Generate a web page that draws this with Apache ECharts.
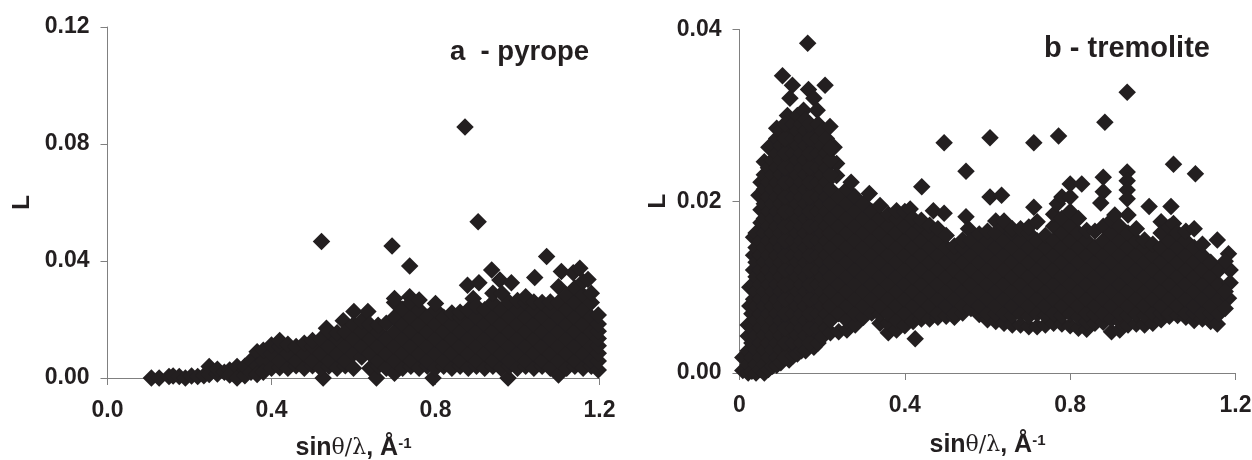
<!DOCTYPE html>
<html><head><meta charset="utf-8">
<script src="https://cdn.jsdelivr.net/npm/echarts@6/dist/echarts.min.js"></script>
<style>html,body{margin:0;padding:0;background:#fff}#c{width:1252px;height:460px}</style>
</head><body><div id="c"></div>
<script>
// Each row: [sinθ/λ, L, L, ...] values
const pyropeRows = [
[.107,0],[.126,0],[.15,.0005],[.16,.0007],[.175,.0005],[.19,0],[.205,.0007],[.22,.0005],[.235,.0008],
[.248,.0039,.0012],[.268,.0014,.003],[.285,.002],[.298,.0027,.001],[.316,.0039,0],[.335,.0027,.0008,.004],
[.35,.006,.002],[.365,.009,.004,.0012],
[.38,.0058,.0095,.002],[.40,.0033,.0083,.0113],[.42,.0035,.0058,.0108,.0128],[.44,.0033,.0083,.0115],
[.46,.0042,.0058,.0108],[.48,.0033,.0083,.0119],[.50,.0042,.0058,.0108,.0128],[.522,.0467],[.526,0],[.52,.0033,.0083,.0133],[.534,.017],
[.54,.004,.0058,.0108,.0158],[.56,.0033,.0083,.0133,.0155],[.575,.0196],[.58,.0042,.0058,.0108,.0158],[.601,.0227],
[.60,.0033,.0083,.0133,.0183],[.62,.0072,.0108,.0158,.0195],[.635,.0227],[.64,.0033,.0083,.0133,.0183],[.656,0],
[.66,.004,.0058,.0108,.0158,.018],[.68,.0033,.0083,.0133,.0187],[.694,.0451],[.70,.0016,.0058,.0108,.0158,.0208,.0258,.0272],
[.72,.0033,.0083,.0133,.0183,.0235],[.737,.0383,.0278],[.74,.004,.0058,.0108,.0158,.0208,.0258],
[.76,.0033,.0083,.0133,.0183,.0233,.0267],[.78,.004,.0058,.0108,.0158,.0208],[.794,0],[.80,.0033,.0083,.0133,.0183,.0233,.0255],
[.82,.004,.0058,.0108,.0158,.0208],[.84,.0033,.0083,.0133,.0183,.0222],[.86,.004,.0058,.0108,.0158,.0208,.0225],
[.872,.0858],[.878,.0317],[.892,.0272],[.88,.0033,.0083,.0133,.0183,.0233],[.904,.0534],[.906,.0326],
[.90,.004,.0058,.0108,.0158,.0208,.0245],[.92,.0033,.0083,.0133,.0183,.0233],[.937,.0369],
[.94,.004,.0058,.0108,.0158,.0208,.0258,.029],[.957,.0335],[.962,.0289],[.96,.0033,.0083,.0133,.0183,.0233],
[.985,.0326],[.977,0],[.98,.004,.0058,.0108,.0158,.0208,.0258],[1.00,.0033,.0083,.0133,.0183,.0233,.0265],
[1.02,.004,.0058,.0108,.0158,.0208,.0258,.0278],[1.042,.0344],[1.04,.0033,.0083,.0133,.0183,.0233,.026],
[1.06,.004,.0058,.0108,.0158,.0208,.0258],[1.071,.0415],[1.08,.0033,.0083,.0133,.0183,.0233,.026],
[1.10,.001,.0058,.0108,.0158,.0208,.0258,.0312],[1.107,.0364],[1.12,.0033,.0083,.0133,.0183,.0233,.0283],
[1.136,.036],[1.14,.004,.0058,.0108,.0158,.0208,.0258,.0308],[1.152,.0375],[1.16,.0033,.0083,.0133,.0183,.0233,.0283,.033],
[1.172,.0337],[1.18,.004,.0058,.0108,.0158,.0208,.0258,.029],[1.197,.0027,.0058,.0085,.011,.0135,.016,.0185,.0215]
];
const tremoliteRows = [
[.008,.0003,.0018],[.021,0,.001,.0026,.0043,.0056],[.025,.0078,.0100],[.03,.0002,.0018,.0035,.0052,.0069],
[.034,.0086,.0103,.012,.0137,.0158],
[.04,0,.001,.0027,.0044,.0061,.0078,.0095,.0112,.0129,.0146,.0163],
[.047,.0207],[.052,.0222,.0190,.0175],
[.05,.0004,.0018,.0035,.0052,.0069,.0086,.0103,.012,.0137,.0154],
[.06,0,.001,.0027,.0044,.0061,.0078,.0095,.0112,.0129,.0146,.0163,.018,.0197,.0214,.0231,.0246],
[.071,.0263],
[.07,.0004,.0018,.0035,.0052,.0069,.0086,.0103,.012,.0137,.0154,.0171,.0188,.0205,.0222,.0239],
[.08,.0008,.0027,.0044,.0061,.0078,.0095,.0112,.0129,.0146,.0163,.018,.0197,.0214,.0231,.0248,.0265],
[.09,.0009,.0018,.0035,.0052,.0069,.0086,.0103,.012,.0137,.0154,.0171,.0188,.0205,.0222,.0239,.0256,.0273,.0285],
[.10,.0012,.0027,.0044,.0061,.0078,.0095,.0112,.0129,.0146,.0163,.018,.0197,.0214,.0231,.0248,.0265,.0282],
[.104,.0346],[.128,.0335],[.122,.032],[.116,.030],
[.12,.0015,.0027,.0044,.0061,.0078,.0095,.0112,.0129,.0146,.0163,.018,.0197,.0214,.0231,.0248,.0265,.0282],
[.11,.0018,.0035,.0052,.0069,.0086,.0103,.012,.0137,.0154,.0171,.0188,.0205,.0222,.0239,.0256,.0273,.029],
[.13,.002,.0035,.0052,.0069,.0086,.0103,.012,.0137,.0154,.0171,.0188,.0205,.0222,.0239,.0256,.0273,.029],
[.14,.0022,.0044,.0061,.0078,.0095,.0112,.0129,.0146,.0163,.018,.0197,.0214,.0231,.0248,.0265,.0282,.030],
[.155,.0306],[.165,.0384],[.167,.033],
[.15,.0026,.0035,.0052,.0069,.0086,.0103,.012,.0137,.0154,.0171,.0188,.0205,.0222,.0239,.0256,.0273,.029],
[.16,.0026,.0044,.0061,.0078,.0095,.0112,.0129,.0146,.0163,.018,.0197,.0214,.0231,.0248,.0265,.0282,.0295],
[.18,.003,.0044,.0061,.0078,.0095,.0112,.0129,.0146,.0163,.018,.0197,.0214,.0231,.0248,.0265,.0282,.032],
[.17,.0035,.0052,.0069,.0086,.0103,.012,.0137,.0154,.0171,.0188,.0205,.0222,.0239,.0256,.0273,.029],
[.188,.0306],[.207,.0335],
[.19,.0035,.0052,.0069,.0086,.0103,.012,.0137,.0154,.0171,.0188,.0205,.0222,.0239,.0256,.0273,.029],
[.20,.0042,.0061,.0078,.0095,.0112,.0129,.0146,.0163,.018,.0197,.0214,.0231,.0248,.0265,.0282],
[.21,.0052,.0069,.0086,.0103,.012,.0137,.0154,.0171,.0188,.0205,.0222,.0239,.0256,.0273],
[.219,.0287],[.229,.0263],[.235,.0244,.023],
[.22,.0047,.0061,.0078,.0095,.0112,.0129,.0146,.0163,.018,.0197,.0214,.0231,.0248,.0262],
[.24,.0048,.0069,.0086,.0103,.012,.0137,.0154,.0171,.0188,.0205],
[.26,.005,.0061,.0078,.0095,.0112,.0129,.0146,.0163,.018,.0197,.0214],
[.27,.0222],
[.28,.0056,.0069,.0086,.0103,.012,.0137,.0154,.0171,.0188,.0205],
[.30,.0065,.0078,.0095,.0112,.0129,.0146,.0163,.018,.0197],
[.314,.0209],[.32,.007,.0086,.0103,.012,.0137,.0154,.0171,.0188],
[.34,.0058,.0068,.0078,.0095,.0112,.0129,.0146,.0163,.018,.0195],
[.36,.0047,.0058,.0069,.0086,.0103,.012,.0137,.0154,.0171,.0185],
[.38,.005,.0061,.0078,.0095,.0112,.0129,.0146,.0163,.018,.0189],
[.40,.0055,.0069,.0086,.0103,.012,.0137,.0154,.0171,.0188],
[.413,.0191],[.425,.004],
[.42,.006,.0078,.0095,.0112,.0129,.0146,.0163,.018],
[.441,.0217],[.44,.0063,.0069,.0086,.0103,.012,.0137,.0154,.0171,.0178],
[.46,.0063,.0078,.0095,.0112,.0129,.0146,.0163,.0172],[.469,.0189],
[.48,.0065,.0069,.0086,.0103,.012,.0137,.0154,.0168],[.495,.0268,.0186],
[.50,.0066,.0078,.0095,.0112,.0129,.0146,.016],
[.52,.0065,.0069,.0086,.0103,.012,.0137,.0148],
[.548,.0235,.0182],[.554,.0168],
[.54,.007,.0078,.0095,.0112,.0129,.0146,.0155],
[.56,.0075,.0086,.0103,.012,.0137,.0154],
[.58,.0068,.0078,.0095,.0112,.0129,.0146,.0162],
[.60,.0062,.0069,.0086,.0103,.012,.0137,.0154,.0165],[.606,.0274,.0205],
[.62,.006,.0069,.0078,.0095,.0112,.0129,.0146,.0163,.0177],[.634,.0207],
[.64,.0058,.0069,.0086,.0103,.012,.0137,.0154,.0171,.0177],
[.66,.0056,.0067,.0078,.0095,.0112,.0129,.0146,.0163,.0168],
[.68,.0056,.0069,.0086,.0103,.012,.0137,.0154,.0168],
[.70,.0054,.0066,.0078,.0095,.0112,.0129,.0146,.0163,.017],[.712,.0268,.0193],
[.72,.0054,.0069,.0086,.0103,.012,.0137,.0154,.0176],
[.74,.0056,.0067,.0078,.0095,.0112,.0129,.0146,.016],
[.76,.0058,.0069,.0086,.0103,.012,.0137,.0154,.0171,.0185],
[.772,.0276],[.769,.0197],
[.78,.0057,.0067,.0078,.0095,.0112,.0129,.0146,.0163,.018,.0205],
[.80,.0055,.0069,.0086,.0103,.012,.0137,.0154,.0171,.0188,.0205,.022],
[.82,.0052,.0065,.0078,.0095,.0112,.0129,.0146,.0163,.018],[.828,.022],
[.84,.0051,.006,.0069,.0086,.0103,.012,.0137,.0154,.0166],
[.86,.0058,.0068,.0078,.0095,.0112,.0129,.0146,.0165],
[.884,.0292],[.88,.0059,.0069,.0086,.0103,.012,.0137,.0154,.0171,.0228,.0211],[.874,.0198],
[.90,.0048,.0063,.0078,.0095,.0112,.0129,.0146,.0163,.0178],[.908,.0184],
[.92,.005,.006,.0069,.0086,.0103,.012,.0137,.0154,.0171],
[.938,.0327,.0234,.0224,.0213,.0203],
[.94,.0056,.0067,.0078,.0095,.0112,.0129,.0146,.0163,.0184],
[.96,.0057,.0069,.0086,.0103,.012,.0137,.0154,.0168],
[.98,.0056,.0067,.0078,.0095,.0112,.0129,.0146,.0155],[.991,.0194],
[1.00,.0058,.0069,.0086,.0103,.012,.0137,.015],
[1.02,.0062,.007,.0078,.0095,.0112,.0129,.0146,.0176,.0163],
[1.04,.0066,.0069,.0086,.0103,.012,.0137,.0154,.017],[1.044,.0194],[1.05,.0243,.0174],
[1.06,.0067,.0078,.0095,.0112,.0129,.0146,.0163],
[1.08,.0065,.0069,.0086,.0103,.012,.0137,.0154,.0165],
[1.103,.0232],[1.10,.0061,.007,.0078,.0095,.0112,.0129,.0146,.0168],
[1.12,.0063,.0069,.0086,.0103,.012,.0137,.015],
[1.14,.006,.007,.0078,.0095,.0112,.0129],
[1.156,.0155,.0057],[1.16,.0069,.0086,.0103,.012],
[1.183,.0139,.0087],[1.187,.012,.0105],[1.175,.0075,.0095,.013]
];
const pyropeYTicks = [0, 0.04, 0.08, 0.12];
const tremoliteYTicks = [0, 0.02, 0.04];
const xMax = 1.2, xStep = 0.4;
const panelTitles = ['a  - pyrope', 'b - tremolite'];
const xTitle = ['sin', 'θ/λ', ', Å', '-1'];
const yTitle = 'L';

const toPoints = rows => rows.flatMap(r => r.slice(1).map(y => [r[0], y]));
const ink = '#231f20', axisGrey = '#808080', font = '"Liberation Sans", Arial, sans-serif';
const tickFont = {color: ink, fontFamily: font, fontWeight: 'bold', fontSize: 23};
const xAxisFor = (i, fmt, gap) => ({
  gridIndex: i, type: 'value', min: 0, max: xMax, interval: xStep,
  axisLine: {onZero: false, lineStyle: {color: axisGrey, width: 1}},
  axisTick: {inside: false, length: 7, lineStyle: {color: axisGrey}},
  splitLine: {show: false},
  axisLabel: Object.assign({margin: 21, formatter: fmt, showMinLabel: true, showMaxLabel: true}, tickFont),
  name: `{b|${xTitle[0]}}{n|${xTitle[1]}}{b|${xTitle[2]}}{s|${xTitle[3]}}`,
  nameLocation: 'middle', nameGap: gap,
  nameTextStyle: {rich: {
    b: {fontFamily: font, fontWeight: 'bold', fontSize: 25, color: ink},
    n: {fontFamily: '"DejaVu Serif", serif', fontSize: 22, color: ink},
    s: {fontFamily: font, fontWeight: 'bold', fontSize: 15, color: ink, verticalAlign: 'top', padding: [0, 0, 8, 0]}
  }}
});
const yAxisFor = (i, ticks, gap) => ({
  gridIndex: i, type: 'value', min: ticks[0], max: ticks[ticks.length - 1], interval: ticks[1] - ticks[0],
  axisLine: {show: true, lineStyle: {color: axisGrey, width: 1}},
  axisTick: {show: true, length: 7, lineStyle: {color: axisGrey}},
  splitLine: {show: false},
  axisLabel: Object.assign({margin: 18, formatter: v => v.toFixed(2)}, tickFont),
  name: yTitle, nameLocation: 'middle', nameGap: gap, nameRotate: 90,
  nameTextStyle: {fontFamily: font, fontWeight: 'bold', fontSize: 24, color: ink}
});
const scatter = (i, rows) => ({
  type: 'scatter', xAxisIndex: i, yAxisIndex: i, symbol: 'diamond', symbolSize: 17.5, clip: false,
  itemStyle: {color: ink, opacity: 1}, data: toPoints(rows), animation: false, large: false
});
const chart = echarts.init(document.getElementById('c'), null, {renderer: 'canvas'});
chart.setOption({
  backgroundColor: '#fff', animation: false,
  grid: [
    {left: 107.5, top: 27, width: 492, height: 351, outerBoundsMode: 'none', containLabel: false},
    {left: 739.5, top: 29.5, width: 496, height: 343.5, outerBoundsMode: 'none', containLabel: false}
  ],
  xAxis: [xAxisFor(0, v => v.toFixed(1), 58), xAxisFor(1, v => v === 0 ? '0' : v.toFixed(1), 60)],
  yAxis: [yAxisFor(0, pyropeYTicks, 73), yAxisFor(1, tremoliteYTicks, 69)],
  series: [scatter(0, pyropeRows), scatter(1, tremoliteRows)],
  title: [
    {text: panelTitles[0], left: 450, top: 38, textStyle: {fontFamily: font, fontWeight: 'bold', fontSize: 27.5, color: ink}, padding: 0},
    {text: panelTitles[1], left: 1044, top: 34, textStyle: {fontFamily: font, fontWeight: 'bold', fontSize: 29, color: ink}, padding: 0}
  ]
});
</script></body></html>
